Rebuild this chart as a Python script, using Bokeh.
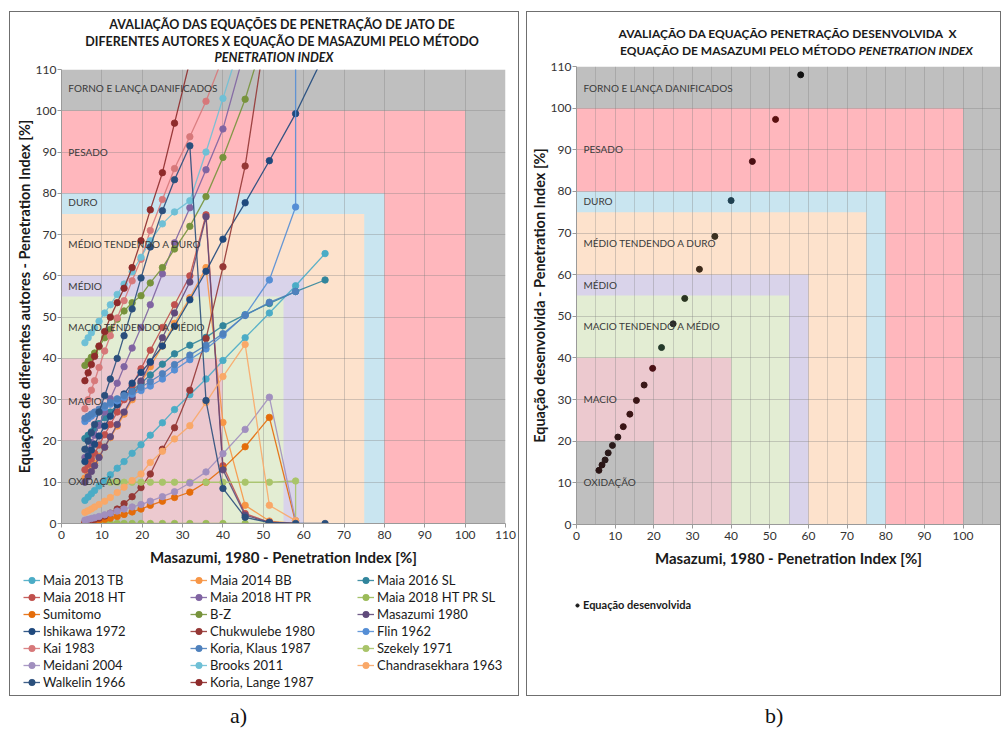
import math
from bokeh.plotting import figure
from bokeh.models import ColumnDataSource, Label, Legend, LegendItem, FixedTicker, Div, Range1d
from bokeh.layouts import row, column
from bokeh.embed import file_html
from bokeh.resources import INLINE

FONT = "Lato"
N = None

# ---------------- data: panel a ----------------
X_MASAZUMI = [5.8, 6.6, 7.4, 8.2, 9.3, 10.7, 12.1, 13.8, 15.5, 17.5, 19.7, 22.0, 25.0, 28.0, 31.8, 35.8, 40.0, 45.5, 51.5, 58.0, 65.3]

MAIA_2013_TB = [5.6, 6.4, 7.2, 8.0, 9.1, 10.4, 11.8, 13.4, 15.0, 17.0, 19.1, 21.4, 24.4, 27.6, 31.2, 35.0, 39.5, 45.0, 51.0, 57.6, 65.4]
MAIA_2014_BB = [11.0, 12.2, 13.4, 14.6, 16.3, 18.5, 20.8, 23.6, 26.5, 30.0, 34.0, 38.0, 43.0, 48.5, 54.7, 62.0, 24.5, 4.4, 0.6, 0.0, N]
MAIA_2016_SL = [20.6, 21.4, 22.2, 23.0, 24.2, 25.6, 27.0, 28.7, 30.3, 32.2, 34.0, 36.0, 38.6, 41.1, 43.2, 45.1, 47.9, 50.6, 53.3, 56.2, 59.0]
MAIA_2018_HT = [13.0, 14.3, 15.6, 17.0, 19.0, 21.5, 24.0, 27.0, 30.0, 33.5, 37.5, 42.0, 47.5, 53.0, 60.0, 74.8, 14.0, 2.4, 0.3, 0.0, N]
MAIA_2018_HT_PR = [16.0, 17.8, 19.6, 21.4, 23.8, 27.0, 30.2, 34.0, 38.0, 42.5, 47.5, 53.0, 60.5, 68.0, 76.5, 85.7, 95.6, 115.0, N, N, N]
MAIA_2018_HT_PR_SL = [0.0, 0.0, 0.0, 0.0, 0.0, 0.0, 0.0, 0.0, 0.0, 0.0, 0.0, 0.0, 0.0, 0.0, 0.0, 0.0, 0.0, 0.0, 0.0, N, N]
SUMITOMO = [0.2, 0.3, 0.4, 0.5, 0.7, 1.0, 1.3, 1.7, 2.2, 2.8, 3.5, 4.4, 5.4, 6.3, 7.6, 10.0, 13.3, 18.6, 25.7, 0.3, N]
B_Z = [38.3, 39.3, 40.3, 41.3, 42.8, 45.0, 47.0, 49.5, 51.5, 53.5, 55.2, 58.3, 62.0, 66.5, 72.0, 79.2, 88.7, 102.8, 122.0, N, N]
MASAZUMI_1980 = [10.0, 11.3, 12.6, 14.0, 16.0, 18.5, 21.0, 24.0, 27.0, 30.5, 34.5, 39.0, 45.0, 51.0, 58.5, 74.3, 13.0, 2.0, 0.3, 0.0, N]
ISHIKAWA_1972 = [15.0, 16.4, 17.8, 19.2, 21.2, 23.6, 26.0, 28.8, 31.4, 34.0, 36.6, 39.2, 43.0, 47.8, 54.2, 61.1, 68.9, 77.7, 87.9, 99.3, 114.0]
CHUKWULEBE_1980 = [0.3, 0.5, 0.7, 1.0, 1.3, 1.8, 2.5, 3.5, 4.8, 6.5, 8.7, 12.0, 18.0, 23.2, 32.3, 44.8, 62.2, 86.6, 125.0, N, N]
FLIN_1962_X = [5.8, 6.6, 7.4, 8.2, 9.3, 10.7, 12.1, 13.8, 15.5, 17.5, 19.7, 22.0, 25.0, 28.0, 31.8, 35.8, 40.0, 45.5, 51.5, 58.0, 58.0]
FLIN_1962 = [24.7, 25.4, 26.0, 26.6, 27.3, 28.1, 28.9, 29.7, 30.5, 31.3, 32.2, 33.3, 35.0, 37.2, 39.7, 42.3, 45.6, 50.5, 59.0, 76.7, 150.0]
KAI_1983 = [27.8, 30.0, 32.3, 34.6, 37.8, 41.8, 45.5, 49.8, 54.0, 58.8, 64.0, 71.0, 78.5, 86.0, 93.7, 102.3, 113.0, N, N, N, N]
KORIA_KLAUS_1987 = [25.5, 26.0, 26.5, 27.0, 27.7, 28.5, 29.3, 30.2, 31.0, 32.0, 33.0, 34.4, 36.3, 38.5, 40.8, 43.2, 46.0, 50.4, 53.6, 56.2, N]
SZEKELY_1971_X = [12.1, 13.8, 15.5, 17.5, 19.7, 22.0, 25.0, 28.0, 31.8, 35.8, 40.0, 45.5, 51.5, 58.0, 58.0]
SZEKELY_1971 = [10.0, 10.0, 10.0, 10.0, 10.0, 10.0, 10.0, 10.0, 10.0, 10.0, 10.0, 10.0, 10.0, 10.3, 0.0]
MEIDANI_2004 = [0.8, 1.0, 1.2, 1.4, 1.7, 2.1, 2.5, 3.0, 3.5, 4.0, 4.6, 5.4, 6.5, 7.7, 9.8, 12.5, 16.9, 22.8, 30.6, 0.7, N]
BROOKS_2011 = [43.8, 45.0, 46.2, 47.4, 49.0, 51.0, 53.0, 55.5, 58.0, 61.0, 64.5, 68.5, 72.6, 75.5, 78.2, 90.0, 103.0, 120.0, N, N, N]
CHANDRASEKHARA_1963 = [2.7, 3.1, 3.5, 4.0, 4.6, 5.4, 6.3, 7.5, 8.8, 10.4, 12.0, 14.8, 17.5, 20.5, 23.7, 29.3, 35.6, 43.4, 4.4, 0.7, N]
WALKELIN_1966 = [18.0, 20.0, 22.0, 24.0, 27.0, 31.0, 35.0, 40.0, 45.5, 52.0, 59.5, 67.0, 75.8, 83.3, 91.5, 29.8, 8.5, 1.5, 0.2, 0.0, 0.0]
KORIA_LANGE_1987 = [34.6, 36.5, 38.5, 40.5, 43.0, 46.5, 50.0, 53.5, 57.0, 62.0, 68.5, 76.0, 85.0, 97.0, 112.0, N, N, N, N, N, N]

SERIES_NAMES = ["Maia 2013 TB", "Maia 2014 BB", "Maia 2016 SL", "Maia 2018 HT", "Maia 2018 HT PR",
                "Maia 2018 HT PR SL", "Sumitomo", "B-Z", "Masazumi 1980", "Ishikawa 1972",
                "Chukwulebe 1980", "Flin 1962", "Kai 1983", "Koria, Klaus 1987", "Szekely 1971",
                "Meidani 2004", "Brooks 2011", "Chandrasekhara 1963", "Walkelin 1966", "Koria, Lange 1987"]
SERIES_X = [X_MASAZUMI, X_MASAZUMI, X_MASAZUMI, X_MASAZUMI, X_MASAZUMI,
            X_MASAZUMI, X_MASAZUMI, X_MASAZUMI, X_MASAZUMI, X_MASAZUMI,
            X_MASAZUMI, FLIN_1962_X, X_MASAZUMI, X_MASAZUMI, SZEKELY_1971_X,
            X_MASAZUMI, X_MASAZUMI, X_MASAZUMI, X_MASAZUMI, X_MASAZUMI]
SERIES_Y = [MAIA_2013_TB, MAIA_2014_BB, MAIA_2016_SL, MAIA_2018_HT, MAIA_2018_HT_PR,
            MAIA_2018_HT_PR_SL, SUMITOMO, B_Z, MASAZUMI_1980, ISHIKAWA_1972,
            CHUKWULEBE_1980, FLIN_1962, KAI_1983, KORIA_KLAUS_1987, SZEKELY_1971,
            MEIDANI_2004, BROOKS_2011, CHANDRASEKHARA_1963, WALKELIN_1966, KORIA_LANGE_1987]
SERIES_COLORS = ["#4BACC6", "#F79646", "#31859C", "#C0504D", "#8064A2",
                 "#9BBB59", "#E46C0A", "#77933C", "#604A7B", "#1F497D",
                 "#953735", "#558ED5", "#D7787A", "#4F81BD", "#A9C46A",
                 "#A18FBF", "#6FC0D6", "#F9A868", "#2B4F7C", "#8E2B2B"]

# ---------------- data: panel b ----------------
X_B = [5.8, 6.6, 7.4, 8.2, 9.3, 10.7, 12.1, 13.8, 15.5, 17.5, 19.7, 22.0, 25.0, 28.0, 31.8, 35.8, 40.0, 45.5, 51.5, 58.0]
Y_B = [13.0, 14.3, 15.5, 17.2, 19.0, 21.0, 23.5, 26.5, 29.8, 33.5, 37.5, 42.5, 48.2, 54.3, 61.3, 69.2, 77.8, 87.2, 97.3, 108.0]
B_COLORS = ["#2a1515", "#2a1515", "#2a1a1a", "#2a1a1a", "#2a1a1a", "#301818", "#3a1515", "#3a1515", "#3a1515", "#3a1818",
            "#4a1015", "#243a2a", "#2a2a2a", "#2a3520", "#3d2a1a", "#3a3020", "#1f4050", "#4a0e12", "#5a0f0f", "#111111"]

# ---------------- zones ----------------
ZONE_LIMITS = [110, 100, 80, 75, 60, 55, 40, 20]
ZONE_COLORS = ["#bfbfbf", "#ffb7bd", "#c9e5f0", "#fde2cc", "#d9d3ea", "#e3edd3", "#ecc9cf", "#bfbfbf"]
ZONE_NAMES = ["FORNO E LANÇA DANIFICADOS", "PESADO", "DURO", "MÉDIO TENDENDO A DURO", "MÉDIO",
              "MACIO TENDENDO A MÉDIO", "MACIO", "OXIDAÇÃO"]
ZONE_LABEL_Y_A = [105.4, 90.1, 77.8, 67.8, 57.6, 47.7, 29.8, 10.2]
ZONE_LABEL_Y_B = [104.9, 90.2, 77.8, 67.6, 57.6, 47.6, 30.2, 10.2]

TICKS = list(range(0, 111, 10))
MINOR_TICKS = list(range(5, 111, 10))

TITLE_A = ["AVALIAÇÃO DAS EQUAÇÕES DE PENETRAÇÃO DE JATO DE",
           "DIFERENTES AUTORES X EQUAÇÃO DE MASAZUMI PELO MÉTODO",
           "PENETRATION INDEX"]
TITLE_B = ["AVALIAÇÃO DA EQUAÇÃO PENETRAÇÃO DESENVOLVIDA&nbsp; X",
           "EQUAÇÃO DE MASAZUMI PELO MÉTODO",
           "PENETRATION INDEX"]
CAPTIONS = ["a)", "b)"]
LEGEND_B = "Equação desenvolvida"


def clean(v):
    return [float("nan") if a is None else a for a in v]


def base_figure(width, height, xend, bl, br, bt, bb):
    p = figure(width=width, height=height, x_range=Range1d(0, xend), y_range=Range1d(0, 110),
               output_backend="svg", toolbar_location=None,
               min_border_left=bl, min_border_right=br, min_border_top=bt, min_border_bottom=bb)
    p.outline_line_color = None
    p.background_fill_color = "white"
    p.border_fill_color = "white"
    p.quad(left=[0] * len(ZONE_LIMITS), bottom=[0] * len(ZONE_LIMITS), right=ZONE_LIMITS, top=ZONE_LIMITS,
           fill_color=ZONE_COLORS, line_color=None, level="image")
    for ax in (p.xaxis[0], p.yaxis[0]):
        ax.ticker = FixedTicker(ticks=TICKS)
        ax.axis_line_color = "#9a9a9a"
        ax.major_tick_line_color = "#9a9a9a"
        ax.major_tick_out = 4
        ax.major_tick_in = 0
        ax.minor_tick_line_color = None
        ax.major_label_text_font = FONT
        ax.major_label_text_font_size = "12px"
        ax.major_label_text_color = "#333333"
        ax.major_label_standoff = 3
        ax.axis_label_text_font = FONT
        ax.axis_label_text_font_style = "bold"
        ax.axis_label_text_font_size = "15px"
        ax.axis_label_text_color = "#1a1a1a"
    p.yaxis.major_label_standoff = 1
    p.yaxis.axis_label_standoff = 0
    p.yaxis.axis_label_text_font_size = "14.5px"
    p.xaxis.axis_label_standoff = 6
    p.xgrid.grid_line_color = "#7f7f7f"
    p.xgrid.grid_line_alpha = 0.35
    p.ygrid.grid_line_color = "#7f7f7f"
    p.ygrid.grid_line_alpha = 0.35
    p.margin = 0
    return p


def legend_figure(width, height, bl, bt):
    # a figure whose frame holds only the legend; its ranges show none of the data
    f = figure(width=width, height=height, x_range=Range1d(-2, -1), y_range=Range1d(-2, -1),
               x_axis_location=None, y_axis_location=None, output_backend="svg", toolbar_location=None,
               min_border_left=bl, min_border_right=0, min_border_top=bt, min_border_bottom=0)
    f.grid.visible = False
    f.outline_line_color = None
    f.background_fill_color = "white"
    f.border_fill_color = "white"
    f.margin = 0
    return f


def add_zone_labels(p, ys, x):
    for name, y in zip(ZONE_NAMES, ys):
        p.add_layout(Label(x=x, y=y, text=name, text_font=FONT, text_font_size="10px",
                           text_color="#3a3a3a", text_baseline="middle", text_align="left"))


TSTYLE = "font-family:Lato;font-weight:bold;line-height:16.5px;color:#1a1a1a;text-align:center;white-space:nowrap;box-sizing:border-box;"
BOX = {"box-shadow": "0 0 0 1px #6f6f6f"}

# ---------------- panel a ----------------
title_a = Div(text=('<div style="%sfont-size:12.5px;padding-top:5px;padding-left:36px;width:508px">%s<br>%s<br>'
                    '<span style="position:relative;left:-8px"><i>%s</i></span></div>') % (TSTYLE, TITLE_A[0], TITLE_A[1], TITLE_A[2]),
              width=508, height=50, margin=0)

p1 = base_figure(508, 510, 110, 51, 13, 7, 49)
p1.xaxis.axis_label = "Masazumi, 1980 - Penetration Index [%]"
p1.yaxis.axis_label = "Equações de diferentes autores - Penetration Index [%]"
add_zone_labels(p1, ZONE_LABEL_Y_A, 1.7)

lf1 = legend_figure(508, 123, 13, 0)
items = []
for name, xs, ys, col in zip(SERIES_NAMES, SERIES_X, SERIES_Y, SERIES_COLORS):
    src = ColumnDataSource(dict(x=xs, y=clean(ys)))
    p1.line("x", "y", source=src, line_color=col, line_width=1.3, line_alpha=0.9)
    p1.scatter("x", "y", source=src, size=6.5, fill_color=col, line_color=col, line_width=0.8)
    lr = lf1.line("x", "y", source=src, line_color=col, line_width=1.3, line_alpha=0.9)
    sr = lf1.scatter("x", "y", source=src, size=5, fill_color=col, line_color=col, line_width=0.8)
    items.append(LegendItem(label=name, renderers=[lr, sr]))

leg1 = Legend(items=items, ncols=3, orientation="horizontal", location="top_left",
              label_text_font=FONT, label_text_font_size="13px", label_text_color="#1a1a1a",
              glyph_width=17, glyph_height=16, label_standoff=3, label_width=146, label_height=16,
              spacing=1, padding=2, margin=0, border_line_color=None, background_fill_alpha=0)
lf1.add_layout(leg1)

panel_a = column(column(title_a, p1, margin=0), lf1, margin=(12, 0, 0, 10))
panel_a.styles = BOX

# ---------------- panel b ----------------
title_b = Div(text=('<div style="%sfont-size:12px;padding-top:14px;padding-left:48px;width:473px">%s<br>'
                    '<span style="position:relative;left:9px">%s <i>%s</i></span></div>') % (TSTYLE, TITLE_B[0], TITLE_B[1], TITLE_B[2]),
              width=473, height=46, margin=0)

p2 = base_figure(473, 514, 109.7, 46, 0, 8, 48)
p2.xaxis[0].ticker = FixedTicker(ticks=TICKS, minor_ticks=MINOR_TICKS)
p2.xgrid.minor_grid_line_color = "#7f7f7f"
p2.xgrid.minor_grid_line_alpha = 0.3
p2.xaxis.axis_label = "Masazumi, 1980 - Penetration Index [%]"
p2.yaxis.axis_label = "Equação desenvolvida - Penetration Index [%]"
add_zone_labels(p2, ZONE_LABEL_Y_B, 1.8)

srcb = ColumnDataSource(dict(x=X_B, y=Y_B, c=B_COLORS))
p2.scatter("x", "y", source=srcb, size=6, fill_color="c", line_color="c")

lf2 = legend_figure(473, 123, 46, 26)
rb_leg = lf2.scatter("x", "y", source=srcb, size=5, fill_color="#1a1a1a", line_color="#1a1a1a")
leg2 = Legend(items=[LegendItem(label=LEGEND_B, renderers=[rb_leg])],
              location="top_left", label_text_font=FONT, label_text_font_size="11px",
              label_text_font_style="bold", label_text_color="#1a1a1a",
              glyph_width=8, glyph_height=12, label_standoff=2, label_height=12,
              padding=3, margin=0, border_line_color=None, background_fill_alpha=0)
lf2.add_layout(leg2)

panel_b = column(column(title_b, p2, margin=0), lf2, margin=(12, 0, 0, 9))
panel_b.styles = BOX

# ---------------- layout ----------------
CAP = '<div style="font-family:\'Liberation Serif\';font-size:22px;line-height:22px;padding-left:%dpx;color:#111">%s</div>'
cap_a = Div(text=CAP % (220, CAPTIONS[0]), width=508, height=22, margin=(10, 0, 0, 10))
cap_b = Div(text=CAP % (238, CAPTIONS[1]), width=473, height=22, margin=(10, 0, 0, 9))

layout = column(row(panel_a, panel_b), row(cap_a, cap_b))
open("out.html", "w").write(file_html(layout, INLINE))
